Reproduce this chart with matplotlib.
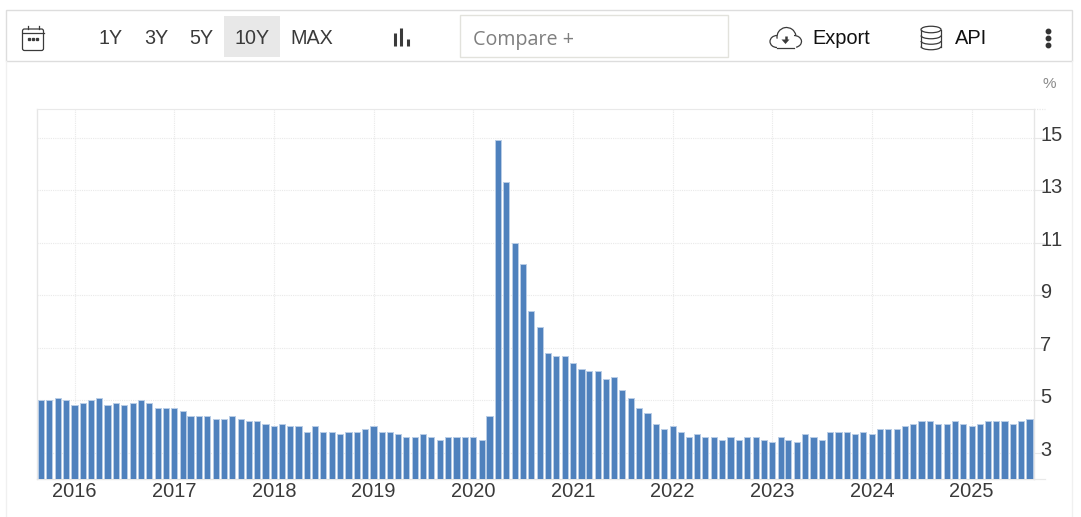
import matplotlib
matplotlib.use("Agg")
import matplotlib.pyplot as plt
import matplotlib.dates as mdates
from matplotlib.patches import Rectangle, FancyBboxPatch, Ellipse, Arc, Polygon
from matplotlib.transforms import ScaledTranslation
import pandas as pd

start_month = "2015-09-01"
rates = [5.0, 5.0, 5.1, 5.0,
         4.8, 4.9, 5.0, 5.1, 4.8, 4.9, 4.8, 4.9, 5.0, 4.9, 4.7, 4.7,
         4.7, 4.6, 4.4, 4.4, 4.4, 4.3, 4.3, 4.4, 4.3, 4.2, 4.2, 4.1,
         4.0, 4.1, 4.0, 4.0, 3.8, 4.0, 3.8, 3.8, 3.7, 3.8, 3.8, 3.9,
         4.0, 3.8, 3.8, 3.7, 3.6, 3.6, 3.7, 3.6, 3.5, 3.6, 3.6, 3.6,
         3.6, 3.5, 4.4, 14.9, 13.3, 11.0, 10.2, 8.4, 7.8, 6.8, 6.7, 6.7,
         6.4, 6.2, 6.1, 6.1, 5.8, 5.9, 5.4, 5.1, 4.7, 4.5, 4.1, 3.9,
         4.0, 3.8, 3.6, 3.7, 3.6, 3.6, 3.5, 3.6, 3.5, 3.6, 3.6, 3.5,
         3.4, 3.6, 3.5, 3.4, 3.7, 3.6, 3.5, 3.8, 3.8, 3.8, 3.7, 3.8,
         3.7, 3.9, 3.9, 3.9, 4.0, 4.1, 4.2, 4.2, 4.1, 4.1, 4.2, 4.1,
         4.0, 4.1, 4.2, 4.2, 4.2, 4.1, 4.2, 4.3]
years = list(range(2016, 2026))
y_ticks = [3, 5, 7, 9, 11, 13, 15]
range_buttons = ["1Y", "3Y", "5Y", "10Y", "MAX"]

W, H = 1081, 517
BAR = "#4f81bd"
EDGE = "#b9cde6"
GRID = "#e9e9e9"
plt.rcParams["font.family"] = ["Liberation Sans", "DejaVu Sans"]
plt.rcParams["text.kerning_factor"] = 10

fig = plt.figure(figsize=(W / 100, H / 100), dpi=100, facecolor="white")

L, R, T, B = 36.5, 1033.5, 109, 479
ax = fig.add_axes([L / W, 1 - B / H, (R - L) / W, (B - T) / H])
dates = pd.date_range(start_month, periods=len(rates), freq="MS")
PX_PER_DAY = 0.27287
jan16 = mdates.date2num(pd.Timestamp("2016-01-01"))
ax.set_xlim(jan16 + (L - 74.5) / PX_PER_DAY, jan16 + (R - 74.5) / PX_PER_DAY)
ax.set_ylim(2.0, 16.09)
ax.bar(mdates.date2num(dates), rates, width=22.5, color=BAR, edgecolor=EDGE,
       linewidth=0.7, zorder=3)

ax.set_xticks([mdates.date2num(pd.Timestamp(f"{y}-01-01")) for y in years])
ax.set_xticklabels([str(y) for y in years])
ax.yaxis.tick_right()
ax.set_yticks(y_ticks)
ax.set_yticklabels([str(v) for v in y_ticks])
ax.grid(True, color=GRID, linestyle=(0, (1, 1)), linewidth=0.8, zorder=0)
ax.tick_params(axis="x", length=0, pad=2.3, labelsize=14.4, labelcolor="#3a3a3a")
ax.tick_params(axis="y", length=8, width=0.8, color=GRID, pad=-3,
               labelsize=14.4, labelcolor="#3a3a3a")
shift = ScaledTranslation(0, 4.5 / 100, fig.dpi_scale_trans)
for lab in ax.yaxis.get_ticklabels():
    lab.set_transform(lab.get_transform() + shift)
ax.spines["top"].set_color(GRID)
ax.spines["top"].set_linestyle((0, (1, 1)))
ax.spines["top"].set_linewidth(0.8)
for s in ("left", "right", "bottom"):
    ax.spines[s].set_color("#e6e6e6")
    ax.spines[s].set_linewidth(1.0)

# overlay in pixel coordinates for the page furniture
ov = fig.add_axes([0, 0, 1, 1], facecolor="none", zorder=5)
ov.set_xlim(0, W)
ov.set_ylim(H, 0)
ov.axis("off")

for yy in [T, B]:
    ov.plot([R, 1045], [yy, yy], color=GRID, lw=0.9,
            ls=(0, (1, 1)) if yy == T else "-")

# panel and toolbar
ov.plot([5.5, 5.5], [61, H], color="#f0f0f0", lw=1)
ov.plot([1071.5, 1071.5], [61, H], color="#f0f0f0", lw=1)
ov.add_patch(Rectangle((5.5, 10), 1066, 51, fc="white", ec="#dddddd", lw=1))
ov.add_patch(Rectangle((224, 16), 56, 41, fc="#e8e8e8", ec="none"))
ov.add_patch(Rectangle((460, 15), 267.5, 41.5, fc="white", ec="#e2e2dc", lw=1))

centers = [111, 156, 201, 252, 311.5]
for lab, cx in zip(range_buttons, centers):
    ov.text(cx, 38.3, lab, ha="center", va="center", fontsize=14.2, color="#3a3a3a")
ov.text(473, 39.5, "Compare +", ha="left", va="center", fontsize=14.2,
        color="#7f7f7f", family="Open Sans")
ov.text(812, 38, "Export", ha="left", va="center", fontsize=14.4, color="#111111")
ov.text(954.5, 38, "API", ha="left", va="center", fontsize=14.4, color="#111111")
ov.text(1049, 84, "%", ha="center", va="center", fontsize=11, color="#8a8a8a")

ICON = "#3a3a3a"
LW = 0.9
# calendar
ov.add_patch(FancyBboxPatch((22.5, 29), 21, 21.5, boxstyle="round,pad=0,rounding_size=2",
                            fc="none", ec=ICON, lw=LW))
ov.plot([22.5, 43.5], [33, 33], color=ICON, lw=LW)
ov.plot([27.5, 27.5], [26, 29], color=ICON, lw=LW)
ov.plot([38.5, 38.5], [26, 29], color=ICON, lw=LW)
ov.plot([29, 33, 37], [38.5, 38.5, 38.5], ls="none", marker="s", ms=1.4, color=ICON)
# bar-chart icon
for x, y0 in [(394.5, 33), (401, 27.5), (407.5, 39)]:
    ov.plot([x, x], [y0, 46], color=ICON, lw=2.2, solid_capstyle="butt")
# cloud
ov.add_patch(Arc((777, 41.5), 14, 12, theta1=90, theta2=270, color=ICON, lw=LW))
ov.add_patch(Arc((794, 41.5), 15, 12, theta1=-90, theta2=70, color=ICON, lw=LW))
ov.add_patch(Arc((786.5, 37), 19, 19, theta1=170, theta2=350, color=ICON, lw=LW))
ov.plot([777, 794], [47.5, 47.5], color=ICON, lw=LW)
ov.plot([785.5, 785.5], [36, 40], color=ICON, lw=1.8, solid_capstyle="butt")
ov.add_patch(Polygon([[781.5, 39.5], [789.5, 39.5], [785.5, 44]], fc=ICON, ec="none"))
# database
ov.add_patch(Ellipse((931, 29.5), 20, 6.5, fc="none", ec=ICON, lw=LW))
ov.plot([921, 921], [29.5, 46.5], color=ICON, lw=LW)
ov.plot([941, 941], [29.5, 46.5], color=ICON, lw=LW)
for cy in (35.5, 41, 46.5):
    ov.add_patch(Arc((931, cy), 20, 6.5, theta1=0, theta2=180, color=ICON, lw=LW))
# kebab menu
ov.plot([1047.5] * 3, [30.5, 37.5, 44.5], ls="none", marker="o", ms=3.2, color="#333333")

fig.savefig("out.png", dpi=100, facecolor="white")
